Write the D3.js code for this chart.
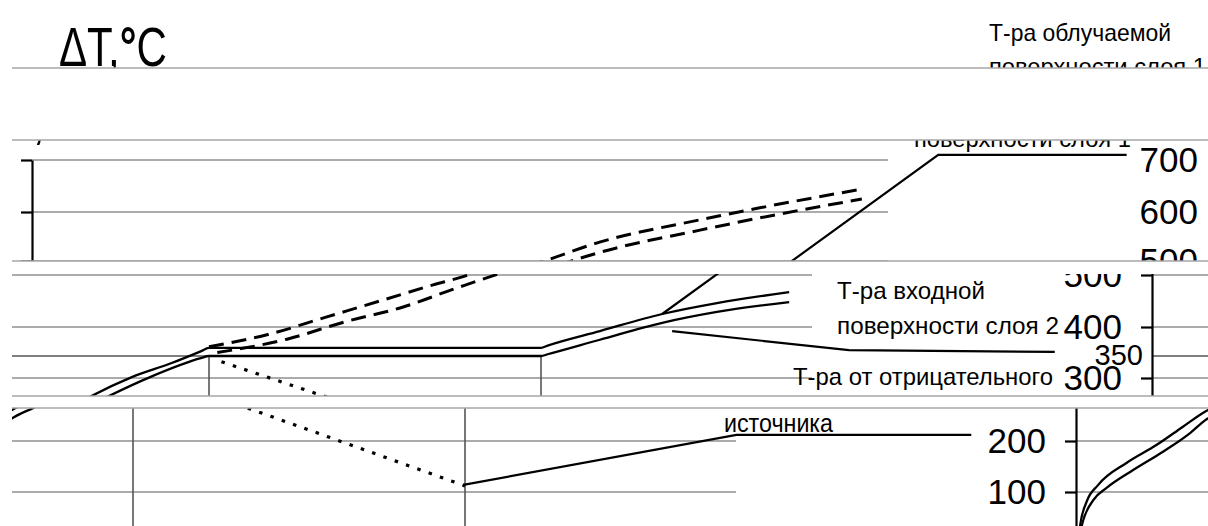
<!DOCTYPE html>
<html>
<head>
<meta charset="utf-8">
<script src="https://cdn.jsdelivr.net/npm/d3@7"></script>
<style>
  body { margin: 0; background: #fff; }
  svg { display: block; font-family: "Liberation Sans", Arial, sans-serif; }
</style>
</head>
<body>
<svg id="fig" width="1208" height="526"></svg>
<script>
// ---- data: time t (arbitrary units), temperature rise ΔT in °C ----
const tempTicks = [100, 200, 300, 400, 500, 600, 700];
const limitTemp = 350;
const markerTimes = [3, 7];

// surface of layer 1 (irradiated), solid
const layer1Surface = [[0,0],[0,33],[0.08,81],[0.22,114],[0.56,157],[0.92,192],[1.24,228],
  [1.51,258],[1.59,265],[2.07,302],[2.55,334],[2.9,358],[3.0,364],[7.0,364],[7.08,368],
  [7.71,393],[8.46,425],[9.12,446],[9.99,467]];
// inner surface of layer 2, solid
const layer2Surface = [[0,0],[0.02,33],[0.16,84],[0.32,108],[0.64,143],[1.0,179],[1.33,216],
  [1.51,241],[1.8,265],[2.29,302],[2.9,345],[3.0,350],[7.0,350],[7.08,353],[7.71,378],
  [8.46,408],[9.12,429],[9.99,448]];
// the same two surfaces without the negative source, dashed
const layer1NoSource = [[3.0,366],[3.71,387],[4.41,419],[5.10,452],[5.70,481],[6.0,494],
  [6.8,539],[8.0,584],[8.72,608],[9.95,644]];
const layer2NoSource = [[3.1,356],[3.94,379],[4.64,410],[5.33,438],[6.02,477],[6.8,518],
  [8.0,563],[8.72,588],[9.95,625]];
// temperature produced by the negative source, dotted
const negativeSource = [[3.15,337],[4.41,263],[7.0,112]];

// leader lines from the captions to the curves
const leaderLayer1 = [[8.46,425],[10.87,710],[13.14,710]];
const leaderLayer2 = [[8.58,393],[10.71,360],[13.19,357]];
const leaderSource = [[6.98,114],[10.27,212],[13.1,212]];

const titleText = ["ΔT,", "°", "C"];
const captions = [
  { lines: ["Т-ра облучаемой", "поверхности слоя 1"], widths: [182, 217], dx: [26, 26], base: [41, 75], size: [24, 24] },
  { lines: ["Т-ра входной", "поверхности слоя 2"], widths: [148, 222], dx: [25, 25], base: [213, 248], size: [24, 24] },
  { lines: ["Т-ра от отрицательного", "источника"], widths: [260, 109], dx: [-19, -12], base: [299, 334], size: [24, 26] }
];

// ---- layout ----
const W = 1208, H = 526;
const period = 1196, left = 12;
const plotW = 856;

const x = d3.scaleLinear().domain([0, 10]).range([4, 834]);
const y = d3.scaleLinear()
  .domain([700, 600, 500, 400, 350, 300, 200, 100, 0])
  .range([88, 140, 189, 241, 270, 292, 343, 394, 445]);

// horizontal strips of the figure: screen rows, vertical offset, axis position
const strips = [
  { y0: 0,   y1: 68,  dy: 0,  ax: 107 },
  { y0: 140, y1: 261, dy: 72, ax: 32 },
  { y0: 274, y1: 396, dy: 86, ax: 1152 },
  { y0: 408, y1: 526, dy: 98, ax: 1076 }
];
const separators = [68, 140, 261, 396, 408];

const svg = d3.select("#fig");
svg.append("rect").attr("width", W).attr("height", H).attr("fill", "#fff");
const defs = svg.append("defs");

const line = d3.line().x(d => x(d[0])).y(d => y(d[1]));
const smooth = d3.line().x(d => x(d[0])).y(d => y(d[1])).curve(d3.curveMonotoneX);

function drawChart(g) {
  // grid
  g.selectAll(".grid").data(tempTicks).join("line")
    .attr("x1", 0).attr("x2", plotW)
    .attr("y1", d => y(d)).attr("y2", d => y(d))
    .attr("stroke", "#8f8f8f").attr("stroke-width", 1.4);
  g.append("line")
    .attr("x1", 0).attr("x2", x(markerTimes[1]))
    .attr("y1", y(limitTemp)).attr("y2", y(limitTemp))
    .attr("stroke", "#555").attr("stroke-width", 1.6);

  // vertical time markers
  g.selectAll(".marker").data(markerTimes).join("line")
    .attr("x1", d => x(d)).attr("x2", d => x(d))
    .attr("y1", y(limitTemp)).attr("y2", y(0))
    .attr("stroke", "#555").attr("stroke-width", 1.6);

  // temperature axis
  const ax = g.append("g")
    .call(d3.axisLeft(y).tickValues(tempTicks).tickSize(11).tickSizeOuter(0).tickPadding(19)
      .tickFormat(d3.format("d")));
  ax.select(".domain").attr("stroke", "#000").attr("stroke-width", 2.2);
  ax.selectAll(".tick line").attr("stroke", "#000").attr("stroke-width", 2.2);
  ax.selectAll(".tick text")
    .attr("fill", "#000").attr("font-size", 35)
    .attr("font-family", "'Liberation Sans', Arial, sans-serif");
  g.append("text")
    .attr("x", -9).attr("y", y(limitTemp)).attr("dy", "0.3em")
    .attr("text-anchor", "end").attr("font-size", 29).text(limitTemp);

  // curves
  [layer1Surface, layer2Surface].forEach(s => g.append("path").attr("d", smooth(s))
    .attr("fill", "none").attr("stroke", "#000").attr("stroke-width", 2.3));
  [layer1NoSource, layer2NoSource].forEach(s => g.append("path").attr("d", smooth(s))
    .attr("fill", "none").attr("stroke", "#000").attr("stroke-width", 3)
    .attr("stroke-dasharray", "15 8"));
  g.append("path").attr("d", line(negativeSource))
    .attr("fill", "none").attr("stroke", "#000").attr("stroke-width", 3.2)
    .attr("stroke-dasharray", "3.5 8.5");

  // leaders
  [leaderLayer1, leaderLayer2, leaderSource].forEach(s => g.append("path").attr("d", line(s))
    .attr("fill", "none").attr("stroke", "#000").attr("stroke-width", 2.2));

  // captions
  captions.forEach(c => {
    c.lines.forEach((t, i) => {
      g.append("text")
        .attr("x", plotW + c.dx[i]).attr("y", c.base[i])
        .attr("font-size", c.size[i])
        .attr("textLength", c.widths[i]).attr("lengthAdjust", "spacingAndGlyphs")
        .text(t);
    });
  });

  // axis title
  const tt = g.append("text")
    .attr("x", -48).attr("y", 66)
    .attr("font-size", 55)
    .attr("textLength", 108).attr("lengthAdjust", "spacingAndGlyphs");
  tt.append("tspan").text(titleText[0]);
  tt.append("tspan").attr("font-weight", "bold").text(titleText[1]);
  tt.append("tspan").text(titleText[2]);
}

strips.forEach((s, i) => {
  const id = "strip" + i;
  defs.append("clipPath").attr("id", id)
    .append("rect").attr("x", left).attr("y", s.y0)
    .attr("width", period).attr("height", s.y1 - s.y0);
  const gs = svg.append("g").attr("clip-path", `url(#${id})`);
  [-1, 0, 1].forEach(k => {
    drawChart(gs.append("g").attr("transform", `translate(${s.ax + k * period},${s.dy})`));
  });
});

svg.selectAll(".sep").data(separators).join("line")
  .attr("x1", left).attr("x2", W)
  .attr("y1", d => d).attr("y2", d => d)
  .attr("stroke", "#a6a6a6").attr("stroke-width", 1.5);
</script>
</body>
</html>
